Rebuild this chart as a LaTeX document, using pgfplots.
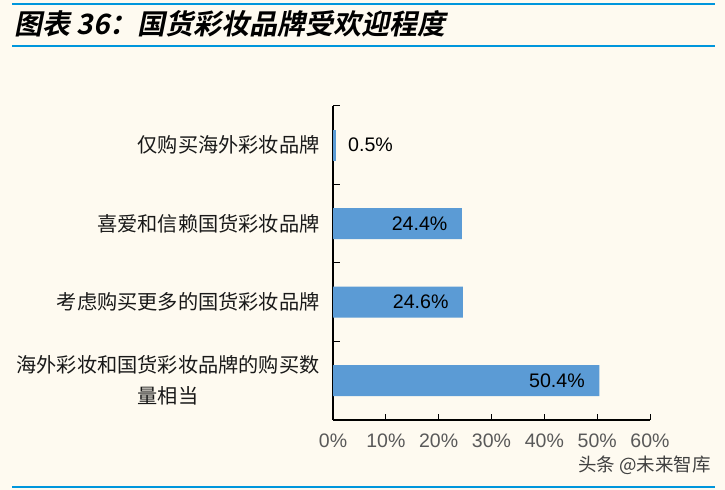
\documentclass[border=0pt]{standalone}
\usepackage{fontspec}
\setmainfont{Liberation Sans}
\newfontfamily\cjk{Noto Sans CJK SC}
\newfontfamily\cjktitle[FakeSlant=0.2]{Noto Sans CJK SC Bold}
\usepackage{pgfplots}
\pgfplotsset{compat=1.18}

\definecolor{bgcream}{RGB}{254,250,240}
\definecolor{barblue}{RGB}{91,155,213}
\definecolor{lineblue}{RGB}{0,150,220}
\definecolor{ticklbl}{RGB}{89,89,89}

\begin{document}
\begin{tikzpicture}[x=1bp,y=1bp]
    % page background and header / footer rules
    \fill[bgcream] (0,0) rectangle (725,490);
    \draw[lineblue, line width=2.2bp] (12,486) -- (715,486);
    \draw[lineblue, line width=2.2bp] (12,444) -- (715,444);
    \draw[lineblue, line width=2.2bp] (12,3) -- (715,3);
    \node[anchor=west, inner sep=0pt] at (14,466)
        {\fontsize{28bp}{30bp}\cjktitle 图表 36：国货彩妆品牌受欢迎程度};

    \begin{axis}[
        at={(333bp,70bp)},
        anchor=south west,
        scale only axis,
        width=317bp,
        height=314bp,
        xmin=0, xmax=60,
        ymin=-0.5, ymax=3.5,
        axis x line*=bottom,
        axis y line*=left,
        axis line style={black, line width=1.2bp},
        tick style={black, line width=1bp},
        tick align=inside,
        major tick length=6bp,
        minor tick length=7bp,
        major y tick style={draw=none},
        xtick={0,10,...,60},
        xticklabel={\pgfmathprintnumber{\tick}\%},
        xticklabel style={font=\fontsize{19.5bp}{22bp}\selectfont, text=ticklbl, yshift=-10bp},
        ytick={0,1,2,3},
        minor ytick={0.5,1.5,2.5,3.5},
        yticklabels={
            {海外彩妆和国货彩妆品牌的购买数\\量相当},
            考虑购买更多的国货彩妆品牌,
            喜爱和信赖国货彩妆品牌,
            仅购买海外彩妆品牌},
        yticklabel style={font=\fontsize{20.2bp}{31bp}\cjk, align=center, text=black!90, xshift=-10bp},
        /pgf/number format/assume math mode=true,
        clip=false,
        ]
        % bars with the value inside the bar end
        \addplot[xbar, bar shift=0pt, bar width=31bp, fill=barblue, draw=none,
            point meta=x,
            nodes near coords={\pgfmathprintnumber[fixed,fixed zerofill,precision=1]{\pgfplotspointmeta}\%},
            every node near coord/.append style={font=\fontsize{19.6bp}{22bp}\selectfont, text=black, anchor=east, xshift=-11bp},
            ] coordinates {
            (50.4,0)
            (24.6,1)
            (24.4,2)
        };
        % the short bar, value outside
        \addplot[xbar, bar shift=0pt, bar width=31bp, fill=barblue, draw=none,
            point meta=x,
            nodes near coords={\pgfmathprintnumber[fixed,fixed zerofill,precision=1]{\pgfplotspointmeta}\%},
            every node near coord/.append style={font=\fontsize{19.6bp}{22bp}\selectfont, text=black, anchor=west, xshift=9bp},
            ] coordinates {
            (0.5,3)
        };
    \end{axis}

    \node[anchor=east, text=black!75, inner sep=0pt] at (711,25)
        {\fontsize{18.5bp}{20bp}\cjk 头条 @未来智库};
\end{tikzpicture}
\end{document}
